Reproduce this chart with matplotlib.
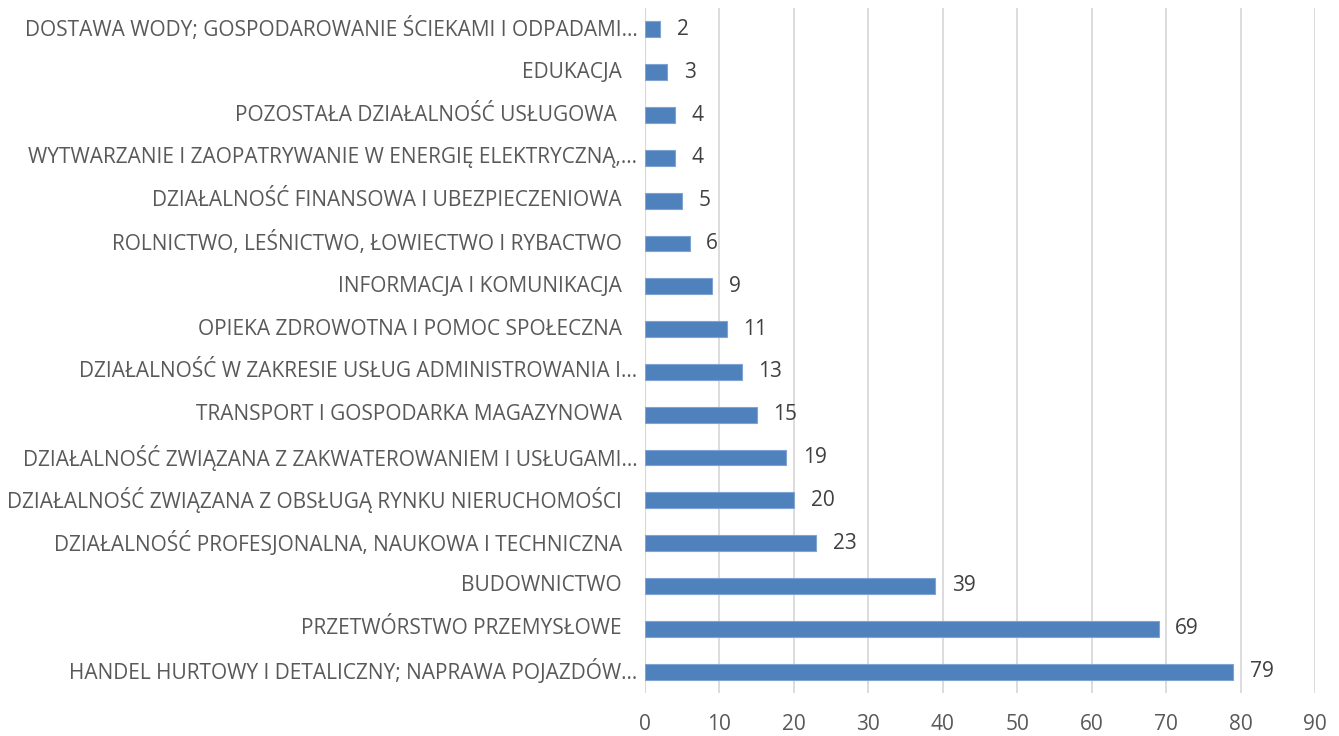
import matplotlib
matplotlib.use("Agg")
import matplotlib.pyplot as plt

categories = [
    "DOSTAWA WODY; GOSPODAROWANIE ŚCIEKAMI I ODPADAMI…",
    "EDUKACJA",
    "POZOSTAŁA DZIAŁALNOŚĆ USŁUGOWA ",
    "WYTWARZANIE I ZAOPATRYWANIE W ENERGIĘ ELEKTRYCZNĄ,…",
    "DZIAŁALNOŚĆ FINANSOWA I UBEZPIECZENIOWA",
    "ROLNICTWO, LEŚNICTWO, ŁOWIECTWO I RYBACTWO",
    "INFORMACJA I KOMUNIKACJA",
    "OPIEKA ZDROWOTNA I POMOC SPOŁECZNA",
    "DZIAŁALNOŚĆ W ZAKRESIE USŁUG ADMINISTROWANIA I…",
    "TRANSPORT I GOSPODARKA MAGAZYNOWA",
    "DZIAŁALNOŚĆ ZWIĄZANA Z ZAKWATEROWANIEM I USŁUGAMI…",
    "DZIAŁALNOŚĆ ZWIĄZANA Z OBSŁUGĄ RYNKU NIERUCHOMOŚCI",
    "DZIAŁALNOŚĆ PROFESJONALNA, NAUKOWA I TECHNICZNA",
    "BUDOWNICTWO",
    "PRZETWÓRSTWO PRZEMYSŁOWE",
    "HANDEL HURTOWY I DETALICZNY; NAPRAWA POJAZDÓW…",
]
values = [2, 3, 4, 4, 5, 6, 9, 11, 13, 15, 19, 20, 23, 39, 69, 79]
x_ticks = [0, 10, 20, 30, 40, 50, 60, 70, 80, 90]

plt.rcParams['font.family'] = ["Open Sans", "DejaVu Sans"]

fig = plt.figure(figsize=(13.39, 7.36), dpi=100)
ax = fig.add_axes([645 / 1339, 1 - 693 / 736, (1315 - 645) / 1339, (693 - 8) / 736])

# bottom-to-top order
cats_r = categories[::-1]
vals_r = values[::-1]
pos = list(range(len(cats_r)))
ax.barh(pos, vals_r, height=0.37, color="#4F81BD", edgecolor="#7FA3D3", linewidth=0.8, zorder=3)

for p, v in zip(pos, vals_r):
    ax.annotate(str(v), xy=(v, p), xytext=(12, 0), textcoords="offset points",
                ha="left", va="center", fontsize=15, color="#404040")

# category labels (ellipsis-truncated ones sit closer to the axis, as in the source)
for p, c in zip(pos, cats_r):
    off = -5.5 if c.endswith("…") else -16.5
    ax.annotate(c, xy=(0, p), xytext=(off, 0), textcoords="offset points",
                xycoords=("data", "data"), ha="right", va="center",
                fontsize=15.0, color="#595959", annotation_clip=False)

ax.set_xlim(0, 90)
ax.set_ylim(-0.5, len(cats_r) - 0.5)
ax.set_xticks(x_ticks)
ax.set_xticklabels([str(t) for t in x_ticks], fontsize=15, color="#595959")
ax.set_yticks([])
ax.tick_params(axis="x", length=0, pad=15)
ax.grid(axis="x", color="#D9D9D9", linewidth=1.3, zorder=0)
for s in ["top", "right", "bottom", "left"]:
    ax.spines[s].set_visible(False)
ax.axvline(0, color="#D0D0D0", linewidth=1.5, zorder=1)

fig.savefig("out.png", dpi=100)
